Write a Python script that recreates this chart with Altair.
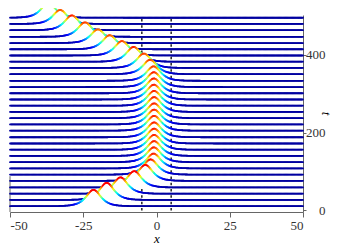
import altair as alt
import numpy as np
import pandas as pd

# ---- data ----
t_lines = [11, 27, 43, 59, 76, 92, 108, 124, 140, 156, 172, 188, 205, 221, 237, 253,
           269, 285, 301, 317, 333, 350, 366, 382, 398, 414, 430, 446, 463, 479, 495]
centers = [-21.5, -17.0, -12.3, -7.6, -3.8, -2.0, -1.0, -0.9, -0.8, -0.8, -0.8, -0.8,
           -0.8, -0.8, -0.8, -0.8, -0.8, -0.9, -0.9, -0.9, -1.0, -2.2, -4.3, -7.8,
           -11.8, -16.0, -20.0, -24.4, -28.9, -32.9, -36.9]
amps = [42, 44, 42, 42, 41, 39, 38, 38, 38, 38, 38, 38, 38, 38, 38, 38,
        38, 38, 38, 38, 37, 37, 37, 38, 37, 36, 35, 37, 38, 36, 38]
bump_width = 2.2
barriers = [-5, 5]
barrier_span = [0, 495]
x_ticks = [-50, -25, 0, 25, 50]
t_ticks = [0, 200, 400]
side_axis = {"x": [-50], "y": [-4], "y2": [88]}
jet = ["#0000a0", "#0000ff", "#0080ff", "#00ffff", "#80ff80", "#ffff00", "#ff8000", "#ff0000"]

# ---- build tables ----
xs = np.arange(-50, 50.0001, 0.4)
rows = []
for k, (t, c, a) in enumerate(zip(t_lines, centers, amps)):
    z = a / np.cosh((xs - c) / bump_width)
    y = t + z
    for i in range(len(xs) - 1):
        rows.append({"k": k, "x": xs[i], "y": y[i], "base": t,
                     "x2": xs[i + 1], "y2": y[i + 1], "zc": 0.5 * (z[i] + z[i + 1])})
df = pd.DataFrame(rows)
bar_df = pd.DataFrame({"x": barriers, "y": [barrier_span[0]] * 2, "y2": [barrier_span[1]] * 2})
side_df = pd.DataFrame(side_axis)

font = "Liberation Serif, DejaVu Serif, serif"
xscale = alt.Scale(domain=[-50, 50], nice=False, zero=False)
yscale = alt.Scale(domain=[-4, 502], nice=False, zero=False)

xaxis = alt.Axis(values=x_ticks, title="x", titleFontStyle="italic", titleFont=font,
                 titleFontSize=13, titleFontWeight="normal",
                 titleBaseline="bottom", titleY=33.5,
                 labelFont=font, labelFontSize=13, labelColor="#333",
                 labelExpr="datum.value + ''", grid=False, tickSize=5, labelPadding=2,
                 domainColor="#666", tickColor="#666")
yaxis = alt.Axis(values=t_ticks, orient="right", title="t", titleFontStyle="italic",
                 titleFont=font, titleFontSize=13, titleFontWeight="normal",
                 titleAngle=90, titleAlign="center", titleBaseline="middle",
                 titleX=22, titleY=98,
                 labelFont=font, labelFontSize=13, labelColor="#333",
                 labelAlign="right", labelPadding=19, grid=False, tickSize=3,
                 domainColor="#666", tickColor="#666")

X = alt.X("x:Q", scale=xscale, axis=xaxis)
Y = alt.Y("y:Q", scale=yscale, axis=yaxis)

layers = []
layers.append(alt.Chart(bar_df).mark_rule(color="black", strokeWidth=1.3, strokeDash=[2.5, 3.8]).encode(
    x=X, y=Y, y2="y2:Q"))
layers.append(alt.Chart(side_df).mark_rule(color="#666", strokeWidth=1).encode(
    x=X, y=Y, y2="y2:Q"))

color = alt.Color("zc:Q", scale=alt.Scale(domain=[0, 38], range=jet, clamp=True), legend=None)
for k in range(len(t_lines) - 1, -1, -1):
    sub = alt.Chart(df).transform_filter(alt.datum.k == k)
    layers.append(sub.mark_area(color="white", opacity=1, interpolate="linear").encode(
        x=X, y=Y, y2="base:Q"))
    layers.append(sub.mark_rule(strokeWidth=1.8, strokeCap="round").encode(
        x=X, y=Y, x2="x2:Q", y2="y2:Q", color=color))

chart = alt.layer(*layers).properties(
    width=293, height=197,
    autosize=alt.AutoSizeParams(type="none"),
    padding={"left": 2, "top": 7, "right": 30, "bottom": 34},
).configure_view(stroke=None)

chart.save("out.html", embed_options={"renderer": "svg", "actions": False})
